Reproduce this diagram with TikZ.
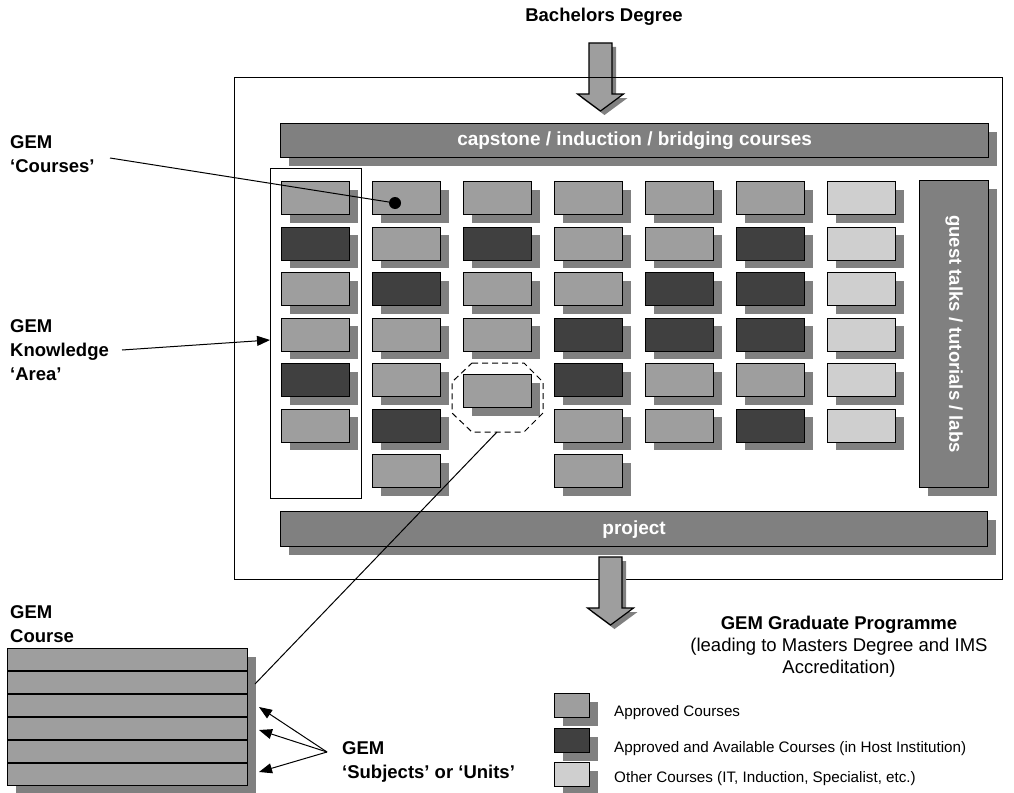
\documentclass[tikz,border=0pt]{standalone}
\usepackage{fontspec}
\setmainfont{Liberation Sans}
\usetikzlibrary{shadows,arrows.meta}
\definecolor{appr}{gray}{0.62}
\definecolor{avail}{gray}{0.25}
\definecolor{other}{gray}{0.81}
\definecolor{shad}{gray}{0.5}
\definecolor{barfill}{gray}{0.5}
\tikzset{
  shd/.style={drop shadow={shadow xshift=8pt,shadow yshift=-8pt,fill=shad,opacity=1}},
  course/.style={draw=black,line width=1.2pt,minimum width=68pt,minimum height=33pt,anchor=north west,inner sep=0pt,shd},
  capp/.style={course,fill=appr},
  cav/.style={course,fill=avail},
  coth/.style={course,fill=other},
  legbox/.style={draw=black,line width=1.2pt,minimum width=35pt,minimum height=24pt,anchor=north west,inner sep=0pt,drop shadow={shadow xshift=8pt,shadow yshift=-8pt,fill=shad,opacity=1}},
  bar/.style={draw=black,line width=1.2pt,fill=barfill,shd,inner sep=0pt,anchor=north west,text=white,font=\bfseries\fontsize{19}{22}\selectfont},
  lbl/.style={font=\bfseries\fontsize{18.5}{24}\selectfont,align=left,anchor=north west,inner sep=0pt},
  legtxt/.style={font=\fontsize{15.2}{18}\selectfont,anchor=west,inner sep=0pt},
  conn/.style={draw=black,line width=1pt},
  arr/.style={conn,-{Triangle[length=13pt,width=10pt]}},
  blockarrow/.pic={
    \fill[shad] (-7.5,4) -- (15.5,4) -- (15.5,55) -- (27,55) -- (4,72) -- (-19,55) -- (-7.5,55) -- cycle;
    \draw[line width=1.2pt,fill=appr] (-11.5,0) -- (11.5,0) -- (11.5,51) -- (23,51) -- (0,68) -- (-23,51) -- (-11.5,51) -- cycle;
  }
}
\begin{document}
\begin{tikzpicture}[x=1pt,y=-1pt]
\useasboundingbox (0,0) rectangle (1014,792);

% top title and arrow
\node[font=\bfseries\fontsize{18.5}{22}\selectfont,inner sep=0pt] (bach) at (604,17) {Bachelors Degree};
\pic at (600.5,43) {blockarrow};

% main frame
\draw[line width=1pt] (234,77) rectangle (1002,579);

% knowledge area rectangle
\node[draw=black,line width=1pt,fill=white,minimum width=91pt,minimum height=330pt,anchor=north west,inner sep=0pt] (area) at (270,168) {};

% bars
\node[bar,minimum width=708pt,minimum height=34pt] (cap) at (280,123) {capstone / induction / bridging courses};
\node[bar,minimum width=707pt,minimum height=35pt] (proj) at (280,511) {project};
\node[bar,minimum width=69pt,minimum height=307pt] (guest) at (919,180) {};
\node[text=white,font=\bfseries\fontsize{18.5}{22}\selectfont,rotate=-90,inner sep=0pt] (guesttxt) at (guest.center) {guest talks / tutorials / labs};

% course boxes
\foreach \c/\r/\s in {1/1/capp,1/2/cav,1/3/capp,1/4/capp,1/5/cav,1/6/capp,
  2/1/capp,2/2/capp,2/3/cav,2/4/capp,2/5/capp,2/6/cav,2/7/capp,
  3/1/capp,3/2/cav,3/3/capp,3/4/capp,
  4/1/capp,4/2/capp,4/3/capp,4/4/cav,4/5/cav,4/6/capp,4/7/capp,
  5/1/capp,5/2/capp,5/3/cav,5/4/cav,5/5/capp,5/6/capp,
  6/1/capp,6/2/cav,6/3/cav,6/4/cav,6/5/capp,6/6/cav,
  7/1/coth,7/2/coth,7/3/coth,7/4/coth,7/5/coth,7/6/coth}
{
  \node[\s] (b-\c-\r) at ({281+91*(\c-1)},{181+45.5*(\r-1)}) {};
}
\node[capp] (bsel) at (463,374) {};

% dashed octagon round the selected course
\draw[line width=1pt,dash pattern=on 6pt off 4pt] (472,363) -- (524,363) -- (543,382) -- (543,413) -- (524,432) -- (472,432) -- (452,413) -- (452,382) -- cycle;
\coordinate (octb) at (497,432);

% dot in course
\node[circle,fill=black,minimum size=12pt,inner sep=0pt] (dot) at (395,203) {};

% left labels
\node[lbl] (lcourses) at (10,135.5) {GEM\\‘Courses’};
\node[lbl] (larea) at (10,319.5) {GEM\\Knowledge\\‘Area’};
\node[lbl] (lcourse) at (10,605.5) {GEM\\Course};
\node[lbl] (lunits) at (342,741.5) {GEM\\‘Subjects’ or ‘Units’};

\coordinate (c1) at (110,158);
\draw[conn] (c1) -- (dot);
\coordinate (c2) at (122,350);
\coordinate (areahit) at (270,340);
\draw[arr] (c2) -- (areahit);

% course stack
\node[draw=black,line width=1.2pt,fill=appr,minimum width=240pt,minimum height=137pt,anchor=north west,inner sep=0pt,shd] (stack) at (7,648) {};
\foreach \yy in {671,694,717,740,763}
  \draw[line width=1.2pt] (7,\yy) -- (247,\yy);
\coordinate (stackhit) at (255,684);
\draw[conn] (octb) -- (stackhit);
\coordinate (uc) at (327,752);
\coordinate (u1) at (259,707);
\coordinate (u2) at (259,730);
\coordinate (u3) at (259,772);
\draw[arr] (uc) -- (u1);
\draw[arr] (uc) -- (u2);
\draw[arr] (uc) -- (u3);

% bottom arrow
\pic at (610.5,557) {blockarrow};

% programme text
\node[font=\fontsize{18.5}{21.8}\selectfont,align=center,anchor=north,inner sep=0pt] (prog) at (839,616) {\textbf{GEM Graduate Programme}\\(leading to Masters Degree and IMS\\Accreditation)};

% legend
\node[legbox,fill=appr] (lg1) at (554,693) {};
\node[legbox,fill=avail] (lg2) at (554,728) {};
\node[legbox,fill=other] (lg3) at (554,762) {};
\node[legtxt] (lt1) at (614,713) {Approved Courses};
\node[legtxt] (lt2) at (614,749) {Approved and Available Courses (in Host Institution)};
\node[legtxt] (lt3) at (614,779) {Other Courses (IT, Induction, Specialist, etc.)};
\end{tikzpicture}
\end{document}
